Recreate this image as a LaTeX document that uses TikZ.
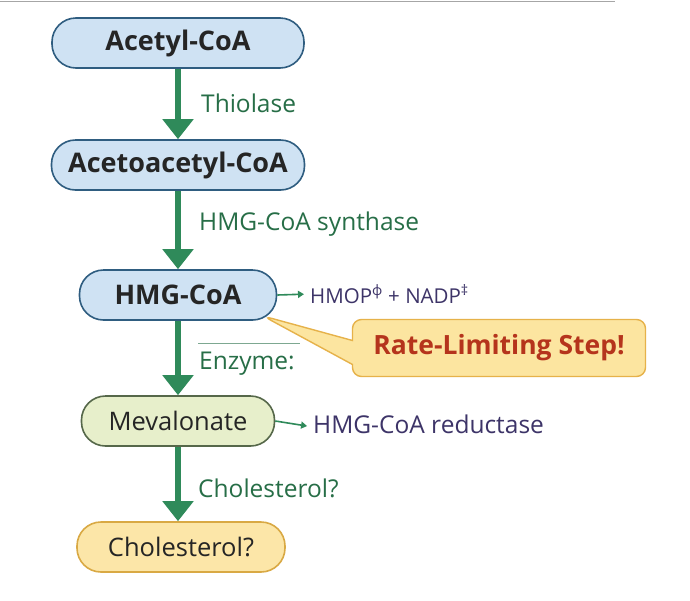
\documentclass[tikz,border=0pt]{standalone}
\usepackage{fontspec}
\setmainfont{Open Sans}
\usetikzlibrary{arrows.meta,shapes.callouts}
\definecolor{arrowgreen}{HTML}{2F8A5A}
\definecolor{labelgreen}{HTML}{276E47}
\definecolor{bluefill}{HTML}{CFE2F3}
\definecolor{blueedge}{HTML}{2F5D80}
\definecolor{greenfill}{HTML}{E7EFCB}
\definecolor{greenedge}{HTML}{56684A}
\definecolor{yellowfill}{HTML}{FCE6A8}
\definecolor{yellowedge}{HTML}{D9A944}
\definecolor{calloutedge}{HTML}{E6B24A}
\definecolor{calloutfill}{HTML}{FCE5A0}
\definecolor{calloutred}{HTML}{B5341C}
\definecolor{purpletext}{HTML}{3D3468}
\definecolor{inktext}{HTML}{252525}
\tikzset{
  x=1pt,y=-1pt,
  pill/.style={draw, line width=1.6pt, rounded corners=24pt, minimum height=50pt,
    inner sep=0pt, text=inktext},
  bluepill/.style={pill, draw=blueedge, fill=bluefill, font=\fontsize{27}{30}\selectfont\bfseries},
  greenpill/.style={pill, draw=greenedge, fill=greenfill, font=\fontsize{25.5}{28}\selectfont},
  yellowpill/.style={pill, draw=yellowedge, fill=yellowfill, font=\fontsize{25.5}{28}\selectfont},
  bigarrow/.style={draw=arrowgreen, line width=6pt, -{Triangle[width=30pt,length=20pt]}},
  smallarrow/.style={draw=arrowgreen, line width=1.6pt, -{Triangle[width=7pt,length=6pt]}, shorten >=6pt},
  steplabel/.style={anchor=west, text=labelgreen, font=\fontsize{24.5}{28}\selectfont, inner sep=0pt},
  sidelabel/.style={anchor=west, text=purpletext, inner sep=0pt},
}
\begin{document}
\begin{tikzpicture}
\useasboundingbox (0,0) rectangle (690,600);
\fill[white] (0,0) rectangle (690,600);
\draw[gray!70, line width=1.5pt] (0,1.5) -- (615,1.5);

\node[bluepill, minimum width=252pt] (acetyl) at (178,43) {Acetyl-CoA};
\node[bluepill, minimum width=253pt] (acetoacetyl) at (178,165) {Acetoacetyl-CoA};
\node[bluepill, minimum width=197pt] (hmg) at (178,295) {HMG-CoA};
\node[greenpill, minimum width=193pt] (meva) at (178,421) {Mevalonate};
\node[yellowpill, minimum width=208pt] (chol) at (181,547) {Cholesterol?};

\draw[bigarrow] (acetyl.south) -- (acetoacetyl.north);
\draw[bigarrow] (acetoacetyl.south) -- (hmg.north);
\draw[bigarrow] (hmg.south) -- (meva.north);
\draw[bigarrow] (meva.south) -- ([xshift=-3pt]chol.north);

\node[steplabel] (l1) at (201,103) {Thiolase};
\node[steplabel] (l2) at (199,224) {HMG-CoA synthase};
\node[steplabel] (l3) at (199,364) {Enzyme:};
\node[steplabel] (l4) at (198,488) {Cholesterol?};
\draw[labelgreen!60, line width=0.8pt] (198,343) -- (300,343);

\node[sidelabel, font=\fontsize{20.5}{24}\selectfont] (prod) at (310,294)
  {HMOP\textsuperscript{ф} + NADP\textsuperscript{‡}};
\draw[smallarrow] (hmg.east) -- (prod.west);
\node[sidelabel, font=\fontsize{24.5}{28}\selectfont] (red) at (313,424) {HMG-CoA reductase};
\draw[smallarrow] (meva.east) -- ([yshift=-3pt]red.west);

\node[rectangle callout, draw=calloutedge, fill=calloutfill, line width=1.4pt,
  rounded corners=9pt, minimum width=293pt, minimum height=57pt,
  callout absolute pointer={(263,316)}, callout pointer width=24pt,
  text=calloutred, font=\fontsize{26.5}{30}\selectfont\bfseries] (rate) at (499,348)
  {Rate-Limiting Step!};
\end{tikzpicture}
\end{document}
